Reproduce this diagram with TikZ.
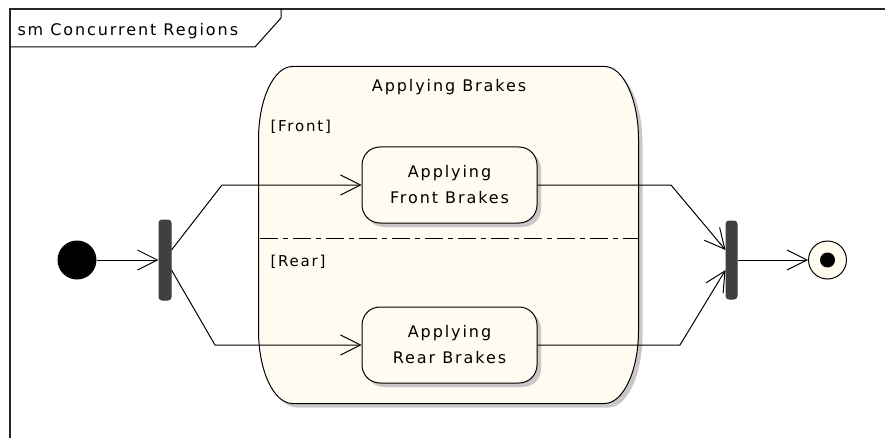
\documentclass[tikz,border=0pt]{standalone}
\usepackage{fontspec}
\setmainfont{DejaVu Sans}[LetterSpace=12]
\usetikzlibrary{arrows.meta,positioning,calc,shadows}
\definecolor{cream}{HTML}{FFFBF0}
\definecolor{bardark}{HTML}{404040}
\definecolor{shade}{HTML}{C8C8C8}

\begin{document}
\begin{tikzpicture}[x=1pt,y=1pt,font=\fontsize{16}{26}\selectfont,line width=1pt,
  sh/.style={drop shadow={shadow xshift=4pt,shadow yshift=-4pt,fill=shade,opacity=1}},
  st/.style={draw,rounded corners=18pt,fill=cream,sh,minimum width=175pt,minimum height=76pt,align=center,inner sep=0pt},
  bar/.style={draw=bardark,fill=bardark,rounded corners=3pt,minimum width=12pt,minimum height=80pt,inner sep=0pt},
  arr/.style={-{Straight Barb[length=20pt,width=20pt]}},
  lbl/.style={font=\fontsize{15}{17}\selectfont,anchor=west,inner sep=0pt}]
\useasboundingbox (0,0) rectangle (885,437);
% frame
\draw[line width=1.5pt,black!85] (10,-5) -- (10,428) -- (890,428);
\draw (10,390) -- (255,390) -- (281,419) -- (281,428);
\node[anchor=base west,inner sep=0pt] (title) at (17,401) {sm Concurrent Regions};
% composite state
\node[minimum width=379pt,minimum height=336pt,inner sep=0pt] (brakes) at (448.5,202) {};
\draw[fill=cream,sh] ([xshift=34pt]brakes.north west) -- ([xshift=-34pt]brakes.north east)
  arc[start angle=90,end angle=0,x radius=34pt,y radius=73pt] -- ([yshift=73pt]brakes.south east)
  arc[start angle=0,end angle=-90,x radius=34pt,y radius=73pt] -- ([xshift=34pt]brakes.south west)
  arc[start angle=270,end angle=180,x radius=34pt,y radius=73pt] -- ([yshift=-73pt]brakes.north west)
  arc[start angle=180,end angle=90,x radius=34pt,y radius=73pt] -- cycle;
\node (name) at (449,350) {Applying Brakes};
\coordinate (sep) at (448.5,199);
\draw[dash pattern=on 18pt off 5pt on 5pt off 5pt] ([xshift=1pt]brakes.west |- sep) -- ([xshift=-1pt]brakes.east |- sep);
\node[lbl] (front lbl) at (270,310) {[Front]};
\node[lbl] (rear lbl) at (270,175) {[Rear]};
\node[st] (front) at (449.5,252) {Applying\\Front Brakes};
\node[st] (rear) at (449.5,92) {Applying\\Rear Brakes};
% pseudo states
\node[circle,fill=black,minimum size=39pt,inner sep=0pt] (init) at (77,177) {};
\node[bar] (fork) at (165,177) {};
\node[bar,minimum width=11pt,minimum height=78pt] (join) at (731.5,177) {};
\node[circle,draw,fill=cream,minimum size=38pt,inner sep=0pt] (final) at (827.5,177) {};
\fill (final.center) circle (7.5);
% transitions
\draw[arr] (init) -- (fork);
\draw[arr] ([yshift=10pt]fork.east) -- (222,252) -- (front.west);
\draw[arr] ([yshift=-10pt]fork.east) -- (215,92) -- (rear.west);
\draw[arr] (front.east) -- (671,252) -- ([yshift=10pt]join.west);
\draw[arr] (rear.east) -- (680,92) -- ([yshift=-10pt]join.west);
\draw[arr] (join) -- (final);
\end{tikzpicture}
\end{document}
